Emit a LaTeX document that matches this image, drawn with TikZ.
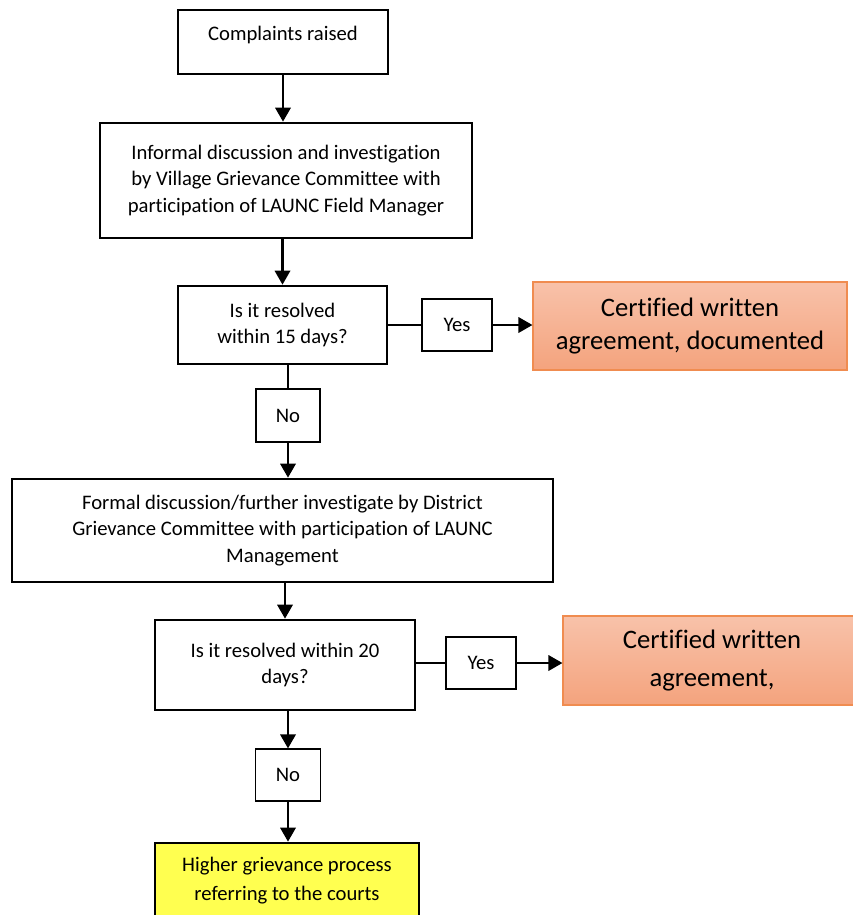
\documentclass[tikz,border=0pt]{standalone}
\usepackage{fontspec}
\setmainfont{Carlito}[Ligatures=NoCommon]
\usetikzlibrary{arrows.meta}
\definecolor{peach}{RGB}{248,194,170}
\definecolor{salmon}{RGB}{244,163,125}
\definecolor{orangeline}{RGB}{240,140,80}
\definecolor{lemon}{RGB}{255,255,80}

\begin{document}
\begin{tikzpicture}[x=0.75pt,y=-0.75pt,>={Triangle[length=10.5pt,width=11.5pt]},
      every node/.style={font=\fontsize{15.5}{20}\selectfont,align=center,inner sep=0pt},
      process/.style={draw,line width=2pt},
      answer/.style={draw,line width=0.9pt,minimum width=52.5pt,minimum height=39pt},
      outcome/.style={draw=orangeline,line width=0.8pt,top color=peach,bottom color=salmon,
        font=\fontsize{20}{25}\selectfont},
      link/.style={draw,line width=1.8pt}]
      \clip (0,0) rectangle (853,915);
      \node[process, minimum width=157.5pt, minimum height=48pt, text depth=13pt] (raised) at (283,42) {Complaints raised};
      \node[process, minimum width=279pt, minimum height=86.25pt] (informal) at (286,180.5)
        {Informal discussion and investigation\\ by Village Grievance Committee with\\ participation of LAUNC Field Manager};
      \node[process, minimum width=156.75pt, minimum height=58.5pt] (check15) at (282.5,325)
        {Is it resolved\\ within 15 days?};
      \node[answer] (yes15) at (457,325) {Yes};
      \node[outcome, minimum width=235.5pt, minimum height=66pt] (agree15) at (690,326)
        {Certified written\\ agreement, documented};
      \node[answer, minimum width=48pt, minimum height=39.75pt] (no15) at (288,415.5) {No};
      \node[process, minimum width=405.75pt, minimum height=77.25pt] (formal) at (282.5,530.5)
        {Formal discussion/further investigate by District\\ Grievance Committee with participation of LAUNC\\ Management};
      \node[process, minimum width=195pt, minimum height=67.5pt] (check20) at (285,665)
        {Is it resolved within 20\\ days?};
      \node[answer] (yes20) at (481,663) {Yes};
      \node[outcome, minimum width=223.5pt, minimum height=66.75pt,
        font=\fontsize{20}{28}\selectfont] (agree20) at (712,660.5)
        {Certified written\\ agreement,};
      \node[answer, minimum width=48.75pt] (no20) at (288,775) {No};
      \node[process, fill=lemon, minimum width=198pt, minimum height=56.25pt,
        font=\fontsize{15.5}{21.5}\selectfont] (courts) at (287,880.5)
        {Higher grievance process\\ referring to the courts};
      % plain joins
      \draw[link] (check15.east |- yes15) -- (yes15.west);
      \draw[link] (check15.south -| no15) -- (no15.north);
      \draw[link] (check20.east |- yes20) -- (yes20.west);
      % arrows
      \draw[link,->] (raised.south) -- (raised.south |- informal.north);
      \draw[link,->] (informal.south -| check15) -- (check15.north);
      \draw[link,->] (yes15.east) -- (yes15.east -| agree15.west);
      \draw[link,->] (no15.south) -- (no15.south |- formal.north);
      \draw[link,->] (formal.south -| check20) -- (check20.north);
      \draw[link,->] (yes20.east) -- (yes20.east -| agree20.west);
      \draw[link,->] (check20.south -| no20) -- (no20.north);
      \draw[link,->] (no20.south) -- (no20.south |- courts.north);
    \end{tikzpicture}
\end{document}
